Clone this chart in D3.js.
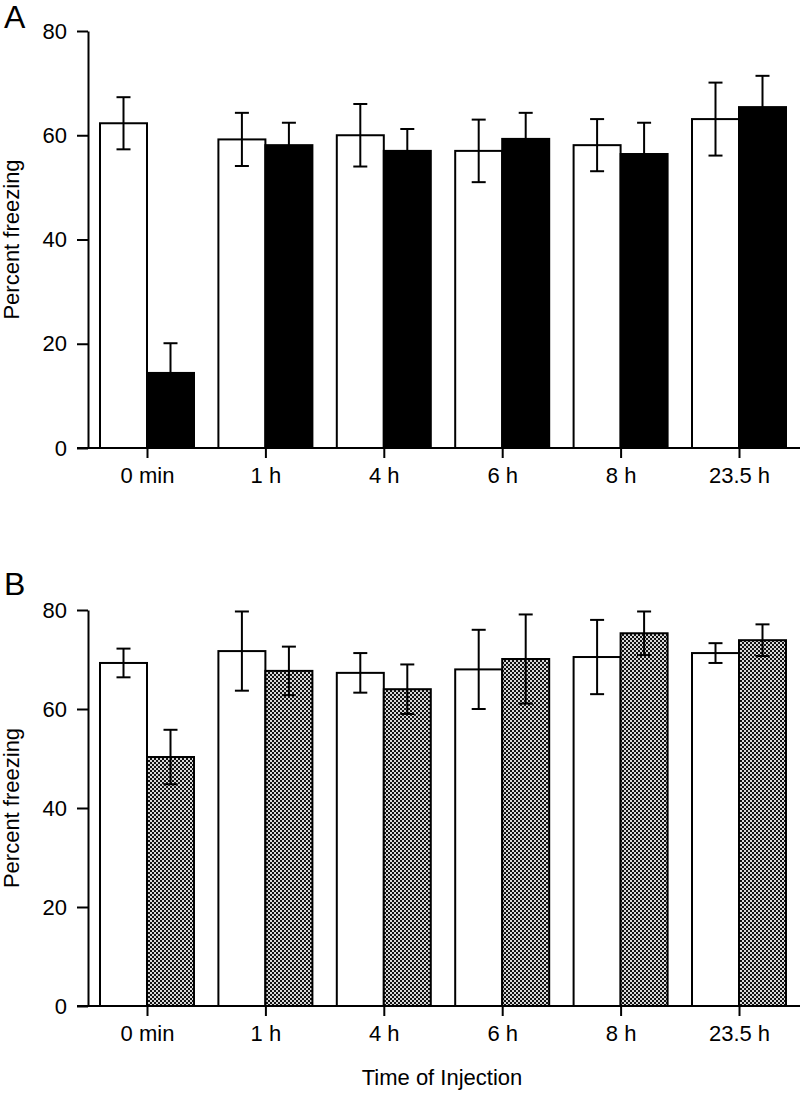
<!DOCTYPE html>
<html>
<head>
<meta charset="utf-8">
<script src="https://cdn.jsdelivr.net/npm/d3@7"></script>
<style>
  body { margin: 0; background: #fff; }
  svg { display: block; font-family: "Liberation Sans", Arial, sans-serif; }
</style>
</head>
<body>
<svg id="chart" width="800" height="1095"></svg>
<script>
const categories = ['0 min', '1 h', '4 h', '6 h', '8 h', '23.5 h']
const yTicks = [0, 20, 40, 60, 80]

// panel A: control (white) and drug (black)
const aControl = [62.3, 59.2, 60.0, 57.0, 58.1, 63.1]
const aControlErr = [5.0, 5.1, 6.0, 6.0, 5.0, 7.0]
const aDrug = [14.4, 58.1, 57.0, 59.3, 56.4, 65.4]
const aDrugErr = [5.7, 4.3, 4.2, 5.0, 6.0, 6.0]

// panel B: control (white) and drug (stippled)
const bControl = [69.3, 71.7, 67.3, 68.0, 70.5, 71.3]
const bControlErr = [2.9, 8.0, 4.0, 8.0, 7.5, 2.0]
const bDrug = [50.3, 67.7, 64.0, 70.1, 75.3, 73.9]
const bDrugErr = [5.5, 4.9, 5.0, 9.0, 4.4, 3.2]

const svg = d3.select('#chart')

const pat = svg.append('defs').append('pattern')
    .attr('id', 'stipple')
    .attr('patternUnits', 'userSpaceOnUse')
    .attr('width', 4)
    .attr('height', 4)
pat.append('rect').attr('width', 4).attr('height', 4).attr('fill', '#d8d8d8')
pat.append('rect').attr('x', 0).attr('y', 0).attr('width', 2).attr('height', 2).attr('fill', '#111')
pat.append('rect').attr('x', 2).attr('y', 2).attr('width', 2).attr('height', 2).attr('fill', '#111')

const x = d3.scalePoint().domain(categories).range([147, 739])
const barW = 47
const capW = 14

const drawPanel = ({ top, bottom, control, controlErr, drug, drugErr, drugFill, letter, letterY }) => {
    const y = d3.scaleLinear().domain([0, 80]).range([bottom, top])
    const g = svg.append('g')

    // side: -1 = left bar (control), 1 = right bar (drug)
    const bars = (vals, errs, fill, side) => {
        const grp = g.append('g')
        categories.forEach((c, i) => {
            grp.append('rect')
                .attr('x', x(c) + (side < 0 ? -barW : 0))
                .attr('y', y(vals[i]))
                .attr('width', barW)
                .attr('height', bottom - y(vals[i]))
                .attr('fill', fill)
                .attr('stroke', '#000')
                .attr('stroke-width', 2)
            const ex = x(c) + side * barW / 2
            const hi = y(vals[i] + errs[i])
            const lo = y(vals[i] - errs[i])
            const seg = (x1, x2, y1, y2) => grp.append('line')
                .attr('x1', x1).attr('x2', x2)
                .attr('y1', y1).attr('y2', y2)
                .attr('stroke', '#000').attr('stroke-width', 2)
            seg(ex, ex, hi, lo)
            seg(ex - capW / 2, ex + capW / 2, hi, hi)
            seg(ex - capW / 2, ex + capW / 2, lo, lo)
        })
    }
    bars(control, controlErr, '#fff', -1)
    bars(drug, drugErr, drugFill, 1)

    // y axis
    g.append('g')
        .attr('transform', 'translate(88,0)')
        .style('font-size', '22px')
        .call(d3.axisLeft(y).tickValues(yTicks).tickSize(11).tickPadding(10).tickSizeOuter(0))
        .call(a => a.select('.domain').attr('stroke-width', 2))
        .call(a => a.selectAll('.tick line').attr('stroke-width', 2))
        .call(a => a.selectAll('text').attr('fill', '#000'))

    // x axis
    g.append('line')
        .attr('x1', 77).attr('x2', 800)
        .attr('y1', bottom).attr('y2', bottom)
        .attr('stroke', '#000').attr('stroke-width', 2)
    g.append('g')
        .attr('transform', `translate(0,${bottom})`)
        .style('font-size', '22px')
        .call(d3.axisBottom(x).tickSize(10).tickPadding(9))
        .call(a => a.select('.domain').remove())
        .call(a => a.selectAll('.tick line').attr('stroke-width', 2))
        .call(a => a.selectAll('text').attr('fill', '#000'))

    g.append('text')
        .attr('transform', `translate(19,${(top + bottom) / 2}) rotate(-90)`)
        .attr('text-anchor', 'middle')
        .style('font-size', '22px')
        .text('Percent freezing')

    g.append('text')
        .attr('x', 4).attr('y', letterY)
        .style('font-size', '32px')
        .text(letter)
}

drawPanel({ top: 31, bottom: 448, control: aControl, controlErr: aControlErr, drug: aDrug, drugErr: aDrugErr, drugFill: '#000', letter: 'A', letterY: 28 })
drawPanel({ top: 610, bottom: 1006, control: bControl, controlErr: bControlErr, drug: bDrug, drugErr: bDrugErr, drugFill: 'url(#stipple)', letter: 'B', letterY: 595 })

svg.append('text')
    .attr('x', 442).attr('y', 1085)
    .attr('text-anchor', 'middle')
    .style('font-size', '22px')
    .text('Time of Injection')
</script>
</body>
</html>
